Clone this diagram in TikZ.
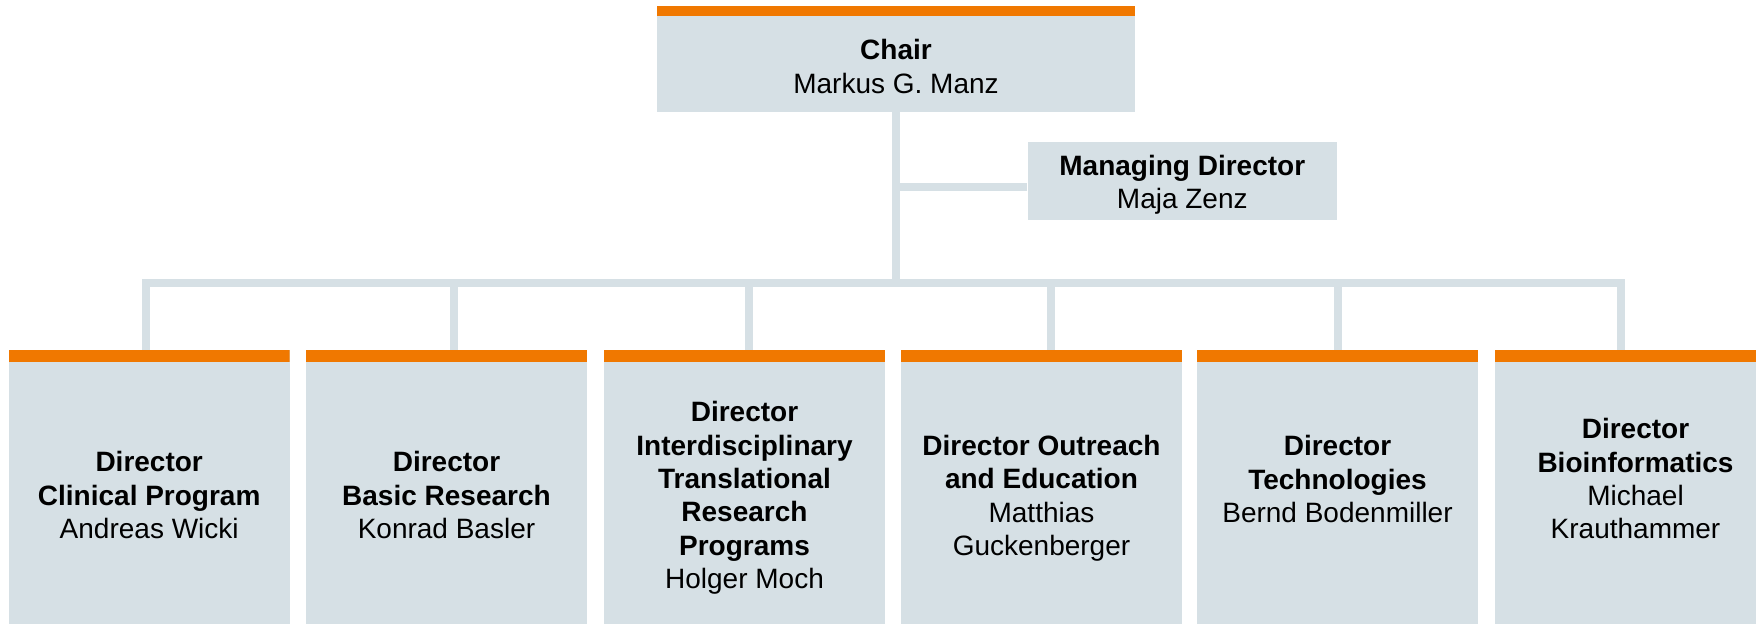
\documentclass[tikz,border=0pt]{standalone}
\usepackage{fontspec}
\setmainfont{Liberation Sans}
\usepackage{xcolor}
\definecolor{boxgray}{HTML}{D6E0E5}
\definecolor{headorange}{HTML}{F07800}

\begin{document}
\begin{tikzpicture}[x=0.5pt, y=-0.5pt,
            box/.style={shape=rectangle, fill=boxgray, inner sep=0pt, minimum width=#1},
            topbar/.style={path picture={\fill[headorange] (path picture bounding box.north west) rectangle ([yshift=-#1]path picture bounding box.north east);}},
            unit/.style={box=140.5pt, minimum height=145pt, topbar=5.85pt},
            txt/.style={anchor=north, align=center, inner sep=0pt, font=\fontsize{14pt}{16.7pt}\selectfont},
            link/.style={draw=boxgray, line width=4pt}]
				\clip (0,0) rectangle (1756,623);

				\node[box=239pt, minimum height=52.85pt, topbar=4.85pt] (chair) at (896,58.85) {};
				\node[box=154.65pt, minimum height=38.85pt] (mgmt) at (1182.3,180.85) {};

				\node[unit] (clin) at (149.2,495) {};
				\node[unit] (basic) at (446.5,495) {};
				\node[unit] (trans) at (744.5,495) {};
				\node[unit] (outr) at (1041.5,495) {};
				\node[unit] (tech) at (1337.5,495) {};
				\node[unit] (bioinf) at (1635.5,495) {};

				\node[txt] (chairT) at (896,39) {\textbf{Chair}\\Markus G. Manz};
				\node[txt] (mgmtT) at (1182.3,154.5) {\textbf{Managing Director}\\Maja Zenz};

				\node[txt] (clinT) at (149.2,451) {\textbf{Director}\\\textbf{Clinical Program}\\Andreas Wicki};
				\node[txt] (basicT) at (446.5,451) {\textbf{Director}\\\textbf{Basic Research}\\Konrad Basler};
				\node[txt] (transT) at (744.5,401) {\textbf{Director}\\\textbf{Interdisciplinary}\\\textbf{Translational}\\\textbf{Research}\\\textbf{Programs}\\Holger Moch};
				\node[txt] (outrT) at (1041.5,434.5) {\textbf{Director Outreach}\\\textbf{and Education}\\Matthias\\Guckenberger};
				\node[txt] (techT) at (1337.5,435) {\textbf{Director}\\\textbf{Technologies}\\Bernd Bodenmiller};
				\node[txt] (bioinfT) at (1635.5,418) {\textbf{Director}\\\textbf{Bioinformatics}\\Michael\\Krauthammer};

				% bus to the six directors
				\coordinate (t1) at (146,283);
				\coordinate (t2) at (453.5,283);
				\coordinate (t3) at (749,283);
				\coordinate (t4) at (1050.5,283);
				\coordinate (t5) at (1338,283);
				\coordinate (t6) at (1621,283);
				\coordinate (mgmtin) at ([yshift=-3pt]mgmt.west);

				\draw[link] (chair.south) -- (chair.south |- t1);
				\draw[link] (mgmtin) -- (mgmtin -| chair.south);
				\draw[link] (t1 |- clin.north) -- (t1) -- (t6) -- (t6 |- bioinf.north);
				\foreach \tap/\unit in {t2/basic, t3/trans, t4/outr, t5/tech}
					\draw[link] (\tap) -- (\tap |- \unit.north);
 		\end{tikzpicture}
\end{document}
